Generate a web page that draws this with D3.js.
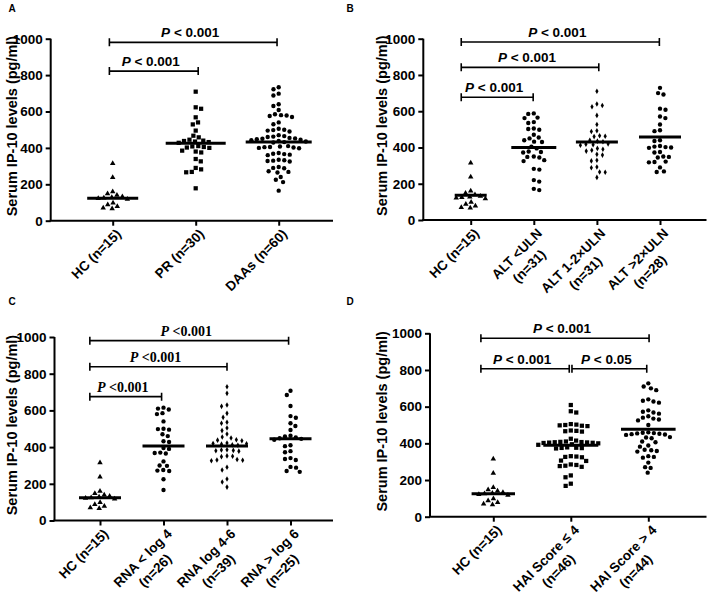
<!DOCTYPE html>
<html><head><meta charset="utf-8">
<script src="https://cdn.jsdelivr.net/npm/d3@7"></script>
<style>body{margin:0;background:#fff}svg{display:block}</style>
</head><body>
<svg id="chart" width="708" height="597"></svg>
<script>
// ---------- data ----------
const hcValues = [315,238,160,148,140,132,128,125,122,118,98,88,78,70,66];
const prValues = [709,623,615,568,540,529,495,467,458,445,440,438,435,432,428,410,408,405,402,400,385,380,375,339,326,290,282,268,266,178];
const daaValues = [733,722,698,688,640,630,608,585,580,578,575,570,540,530,505,500,498,495,490,470,465,462,460,455,452,450,448,445,442,438,435,432,430,410,408,405,404,402,400,398,372,368,366,363,360,335,332,330,328,325,295,290,288,272,268,265,240,225,212,165];
const altLowValues = [588,585,565,562,540,535,505,502,498,470,455,450,440,432,430,405,395,378,375,372,350,348,345,330,325,282,278,220,212,172,165];
const altMidValues = [710,640,632,625,577,527,492,488,465,462,460,440,435,432,420,418,415,412,395,390,385,380,362,358,330,326,292,288,265,263,235];
const altHighValues = [729,700,692,614,608,571,562,527,495,490,440,436,408,405,402,400,398,375,372,350,348,345,322,320,318,290,268,265];
const rnaLowValues = [615,610,605,585,580,540,500,498,495,470,460,432,428,395,390,370,368,365,322,300,298,275,272,270,225,166];
const rnaMidValues = [729,693,629,622,584,562,535,530,504,490,471,455,450,440,438,435,422,420,418,416,412,410,386,384,382,380,378,352,350,348,332,330,328,326,290,275,226,210,182];
const rnaHighValues = [707,684,624,569,560,530,515,493,462,458,452,448,445,440,410,405,378,372,340,335,330,292,288,270,265];
const haiLowValues = [609,575,568,505,502,500,498,496,494,470,468,466,464,425,415,410,408,407,406,405,404,403,402,400,395,392,378,376,375,374,372,330,328,326,324,306,304,285,282,278,276,272,225,215,180,168];
const haiHighValues = [727,710,700,690,640,632,628,622,580,572,568,562,548,540,535,530,525,500,460,458,456,454,452,450,448,446,434,432,428,410,406,388,382,365,362,358,355,330,326,322,295,270,266,240];

const centerA = [123,425,432];
const centerB = [137,400,430,458];
const centerC = [124,406,406,446];
const centerD = [125,389,477];

const catsA = [["HC (n=15)"],["PR (n=30)"],["DAAs (n=60)"]];
const catsB = [["HC (n=15)"],["ALT <ULN","(n=31)"],["ALT 1-2×ULN","(n=31)"],["ALT >2×ULN","(n=28)"]];
const catsC = [["HC (n=15)"],["RNA < log 4","(n=26)"],["RNA log 4-6","(n=39)"],["RNA > log 6","(n=25)"]];
const catsD = [["HC (n=15)"],["HAI Score ≤ 4","(n=46)"],["HAI Score > 4","(n=44)"]];

const yTicks = [0,200,400,600,800,1000];
const yTitle = "Serum IP-10 levels (pg/ml)";

// brackets: from/to in category units, y in data units
const bracketsA = [{from:-0.04,to:1.03,y:822,p:"< 0.001"},{from:-0.04,to:1.98,y:980,p:"< 0.001"}];
const bracketsB = [{from:-0.15,to:0.99,y:677,p:"< 0.001"},{from:-0.15,to:2.03,y:842,p:"< 0.001"},{from:-0.15,to:2.99,y:982,p:"< 0.001"}];
const bracketsC = [{from:-0.16,to:0.97,y:675,p:"<0.001"},{from:-0.16,to:2.0,y:838,p:"<0.001"},{from:-0.16,to:2.97,y:980,p:"<0.001"}];
const bracketsD = [{from:-0.16,to:0.98,y:807,p:"< 0.001"},{from:1.015,to:1.98,y:807,p:"< 0.05"},{from:-0.16,to:2.01,y:973,p:"< 0.001"}];

// ---------- layout ----------
const panels = [
  {letter:"A", lx:12, ly:12, axisX:50.7, titleX:16.5, y0:220.7, y1:38.7, first:112.7, step:83, xEnd:333,
   cats:catsA, groups:[hcValues,prValues,daaValues], centers:centerA, shapes:["triangle","square","circle"],
   half:[25.5,30,33], brackets:bracketsA, serif:false},
  {letter:"B", lx:350, ly:12, axisX:423.3, titleX:387, y0:220, y1:38.7, first:470.7, step:63.1, xEnd:706.5,
   cats:catsB, groups:[hcValues,altLowValues,altMidValues,altHighValues], centers:centerB, shapes:["triangle","circle","diamond","circle"],
   half:[16,22.5,21,21], brackets:bracketsB, serif:false},
  {letter:"C", lx:12, ly:305, axisX:54.5, titleX:16.5, y0:520.5, y1:337, first:100, step:63.5, xEnd:333,
   cats:catsC, groups:[hcValues,rnaLowValues,rnaMidValues,rnaHighValues], centers:centerC, shapes:["triangle","circle","diamond","circle"],
   half:[21,21,21,21], brackets:bracketsC, serif:true},
  {letter:"D", lx:350, ly:305, axisX:430, titleX:387, y0:516.7, y1:333.3, first:493.3, step:77.5, xEnd:706.5,
   cats:catsD, groups:[hcValues,haiLowValues,haiHighValues], centers:centerD, shapes:["triangle","square","circle"],
   half:[21.7,27.5,27.3], brackets:bracketsD, serif:false}
];

const SANS = "'Liberation Sans', Arial, sans-serif";
const SERIF = "'Liberation Serif', 'Times New Roman', serif";
const svg = d3.select("#chart");

const symbolTypes = {triangle:[d3.symbolTriangle,13], square:[d3.symbolSquare,18], circle:[d3.symbolCircle,15], diamond:[d3.symbolDiamond,9]};

function swarm(values, y, sep){
  const pts = values.map(v=>({v, y:y(v), x:0})).sort((a,b)=>a.y-b.y);
  const placed = [];
  let flip = 1;
  for (const p of pts){
    const ivs = [];
    for (const q of placed){
      const dy = Math.abs(q.y-p.y);
      if (dy < sep){ const d = Math.sqrt(sep*sep-dy*dy); ivs.push([q.x-d,q.x+d]); }
    }
    const cands = [0];
    ivs.forEach(iv=>{cands.push(iv[0],iv[1]);});
    cands.sort((a,b)=>{const da=Math.abs(a)-Math.abs(b); if (Math.abs(da)>1e-6) return da; return (b-a)*flip;});
    let chosen = 0;
    for (const c of cands){
      if (ivs.every(iv=> c<=iv[0]+1e-6 || c>=iv[1]-1e-6)){ chosen=c; break; }
    }
    p.x = chosen; flip = -flip;
    placed.push(p);
  }
  return pts;
}

panels.forEach(P=>{
  const g = svg.append("g");
  const y = d3.scaleLinear().domain([0,1000]).range([P.y0,P.y1]);
  const x = d3.scaleLinear().domain([0,1]).range([P.first,P.first+P.step]);

  // panel letter
  g.append("text").attr("x",P.lx).attr("y",P.ly).attr("font-family",SANS).attr("font-weight","bold")
    .attr("font-size",10).attr("text-anchor","middle").text(P.letter);

  // y axis
  const yAxis = d3.axisLeft(y).tickValues(yTicks).tickSize(5).tickPadding(3).tickFormat(d3.format("d"));
  const ya = g.append("g").attr("transform",`translate(${P.axisX},0)`).call(yAxis);
  ya.select(".domain").attr("d",`M0,${P.y1}V${P.y0}`).attr("stroke","#000").attr("stroke-width",2);
  ya.selectAll(".tick line").attr("stroke","#000").attr("stroke-width",2);
  ya.selectAll(".tick text").attr("font-family",SANS).attr("font-weight","bold").attr("font-size",13.5).attr("fill","#000");

  // x axis
  const idx = P.cats.map((c,i)=>i);
  const xAxis = d3.axisBottom(x).tickValues(idx).tickSize(5).tickFormat("");
  const xa = g.append("g").attr("transform",`translate(0,${P.y0})`).call(xAxis);
  xa.select(".domain").attr("d",`M${P.axisX-1},0H${P.xEnd}`).attr("stroke","#000").attr("stroke-width",2);
  xa.selectAll(".tick line").attr("stroke","#000").attr("stroke-width",2);

  // x labels (block right-aligned at tick, lines centred within block)
  P.cats.forEach((lines,i)=>{
    const t = g.append("text").attr("font-family",SANS).attr("font-weight","bold").attr("font-size",13.5)
      .attr("text-anchor","end").attr("transform",`translate(${x(i)+3},${P.y0+8}) rotate(-45)`);
    const spans = lines.map((ln,k)=>t.append("tspan").attr("x",0).attr("dy",k===0?"0.65em":"1.3em").text(ln));
    const widths = spans.map(s=>s.node().getComputedTextLength());
    const maxW = Math.max(...widths);
    spans.forEach((s,k)=>s.attr("x",-(maxW-widths[k])/2));
  });

  // y title
  g.append("text").attr("font-family",SANS).attr("font-weight","bold").attr("font-size",14.5)
    .attr("text-anchor","middle").attr("transform",`translate(${P.titleX},${y(520)}) rotate(-90)`).text(yTitle);

  // points
  P.groups.forEach((vals,i)=>{
    const pts = swarm(vals,y,5.6);
    const [type,size] = symbolTypes[P.shapes[i]];
    const sym = d3.symbol().type(type).size(size);
    g.append("g").selectAll("path").data(pts).join("path")
      .attr("d",sym).attr("fill","#000")
      .attr("transform",d=>`translate(${x(i)+d.x},${d.y})`);
    // center line
    g.append("line").attr("x1",x(i)-P.half[i]).attr("x2",x(i)+P.half[i])
      .attr("y1",y(P.centers[i])).attr("y2",y(P.centers[i])).attr("stroke","#000").attr("stroke-width",3);
  });

  // brackets
  P.brackets.forEach(b=>{
    const x1 = x(b.from), x2 = x(b.to), yy = y(b.y);
    g.append("path").attr("d",`M${x1},${yy}H${x2}M${x1},${yy-4}V${yy+4}M${x2},${yy-4}V${yy+4}`)
      .attr("fill","none").attr("stroke","#000").attr("stroke-width",1.6);
    const t = g.append("text").attr("x",(x1+x2)/2-3).attr("y",yy-5).attr("text-anchor","middle")
      .attr("font-family",P.serif?SERIF:SANS).attr("font-weight","bold").attr("font-size",P.serif?14:13.5);
    t.append("tspan").attr("font-style","italic").text("P");
    t.append("tspan").text(" "+b.p);
  });
});
</script>
</body></html>
